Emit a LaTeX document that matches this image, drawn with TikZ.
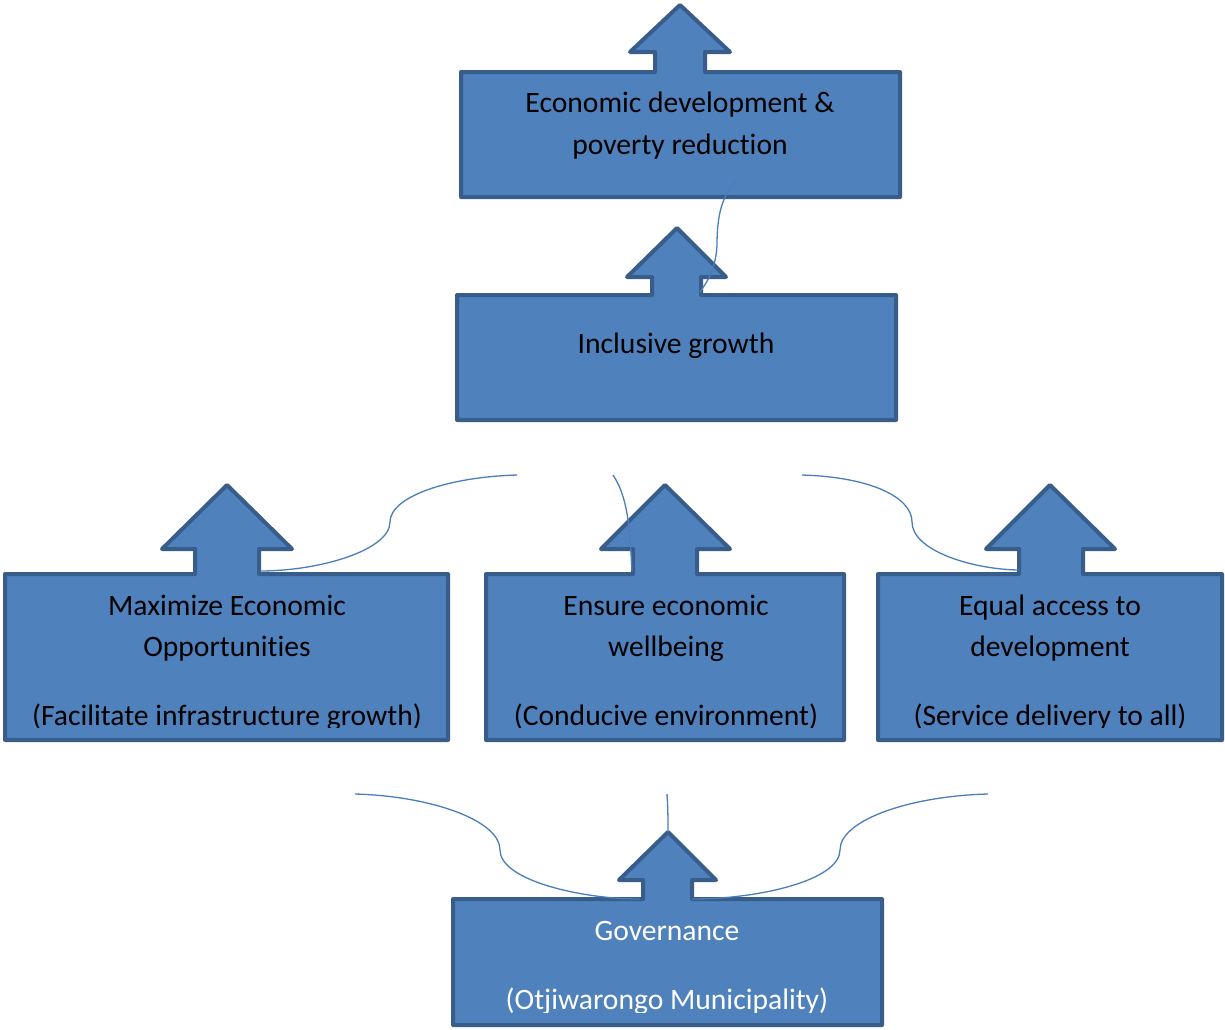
\documentclass[tikz,border=0pt]{standalone}
\usepackage{fontspec}
\setmainfont[RawFeature={-liga,-clig,-dlig}]{Carlito}
\definecolor{boxfill}{HTML}{4F81BD}
\definecolor{boxline}{HTML}{385D8A}
\definecolor{curve}{HTML}{4A7EBB}
\begin{document}
\begin{tikzpicture}[x=1pt,y=-1pt,
  arrowbox/.style={fill=boxfill,draw=boxline,line width=4pt,line join=round},
  link/.style={draw=curve,line width=1.3pt},
  lbl/.style={anchor=base,inner sep=0pt,font=\fontsize{29.6}{41}\selectfont},
  wlbl/.style={lbl,text=white}]
\useasboundingbox[fill=white] (0,0) rectangle (1225,1029);
% boxes with up arrows
\draw[arrowbox] (461,72) -- (655,72) -- (655,52) -- (630,52) -- (680,5) -- (730,52) -- (705,52) -- (705,72) -- (900,72) -- (900,197) -- (461,197) -- cycle;
\draw[arrowbox] (457,295) -- (652,295) -- (652,277) -- (627,277) -- (677,228) -- (726,277) -- (701,277) -- (701,295) -- (896,295) -- (896,420) -- (457,420) -- cycle;
\draw[arrowbox] (5,574) -- (195,574) -- (195,549) -- (162,549) -- (227,485) -- (292,549) -- (259,549) -- (259,574) -- (448,574) -- (448,740) -- (5,740) -- cycle;
\draw[arrowbox] (486,574) -- (633,574) -- (633,549) -- (601,549) -- (665,485) -- (730,549) -- (697,549) -- (697,574) -- (844,574) -- (844,740) -- (486,740) -- cycle;
\draw[arrowbox] (878,574) -- (1019,574) -- (1019,549) -- (986,549) -- (1050,485) -- (1115,549) -- (1083,549) -- (1083,574) -- (1222,574) -- (1222,740) -- (878,740) -- cycle;
\draw[arrowbox] (453,899) -- (643,899) -- (643,880) -- (619,880) -- (668,832) -- (716,880) -- (692,880) -- (692,899) -- (882,899) -- (882,1025) -- (453,1025) -- cycle;
% labels
\node[lbl] (t1) at (680,112) {Economic development \&};
\node[lbl] (t2) at (680,154) {poverty reduction};
\node[lbl] (ig) at (676,353) {Inclusive growth};
\node[lbl] (m1) at (227,615) {Maximize Economic};
\node[lbl] (m2) at (227,656) {Opportunities};
\node[lbl] (e1) at (666,615) {Ensure economic};
\node[lbl] (e2) at (666,656) {wellbeing};
\node[lbl] (q1) at (1050,615) {Equal access to};
\node[lbl] (q2) at (1050,656) {development};
\node[wlbl] (g1) at (667,940) {Governance};
\begin{scope}
\clip (0,0) rectangle (1225,727.5);
\node[lbl] (m3) at (227,725) {(Facilitate infrastructure growth)};
\node[lbl] (e3) at (666,725) {(Conducive environment)};
\node[lbl] (q3) at (1050,725) {(Service delivery to all)};
\end{scope}
\begin{scope}
\clip (0,0) rectangle (1225,1012);
\node[wlbl] (g2) at (667,1009) {(Otjiwarongo Municipality)};
\end{scope}
% curves
\coordinate (a1) at (737,180); \coordinate (a2) at (700,292);
\draw[link] (a1) .. controls (722,195) and (717,215) .. (717,245) .. controls (716,270) and (705,285) .. (a2);
\coordinate (b1) at (517,475); \coordinate (b2) at (260,571);
\draw[link] (b1) .. controls (447,477) and (390,497) .. (390,522) .. controls (390,550) and (320,571) .. (b2);
\coordinate (c1) at (613,475); \coordinate (c2) at (632,571);
\draw[link] (c1) .. controls (630,500) and (630,540) .. (c2);
\coordinate (d1) at (802,475); \coordinate (d2) at (1018,570);
\draw[link] (d1) .. controls (870,477) and (912,497) .. (912,522) .. controls (912,550) and (970,569) .. (d2);
\coordinate (f1) at (355,794); \coordinate (f2) at (640,899);
\draw[link] (f1) .. controls (430,796) and (500,820) .. (500,850) .. controls (500,880) and (580,899) .. (f2);
\coordinate (h1) at (667,794); \coordinate (h2) at (668,832);
\draw[link] (h1) .. controls (668,810) and (668,820) .. (h2);
\coordinate (k1) at (988,794); \coordinate (k2) at (692,899);
\draw[link] (k1) .. controls (910,796) and (840,820) .. (840,850) .. controls (840,880) and (760,899) .. (k2);
\end{tikzpicture}
\end{document}
